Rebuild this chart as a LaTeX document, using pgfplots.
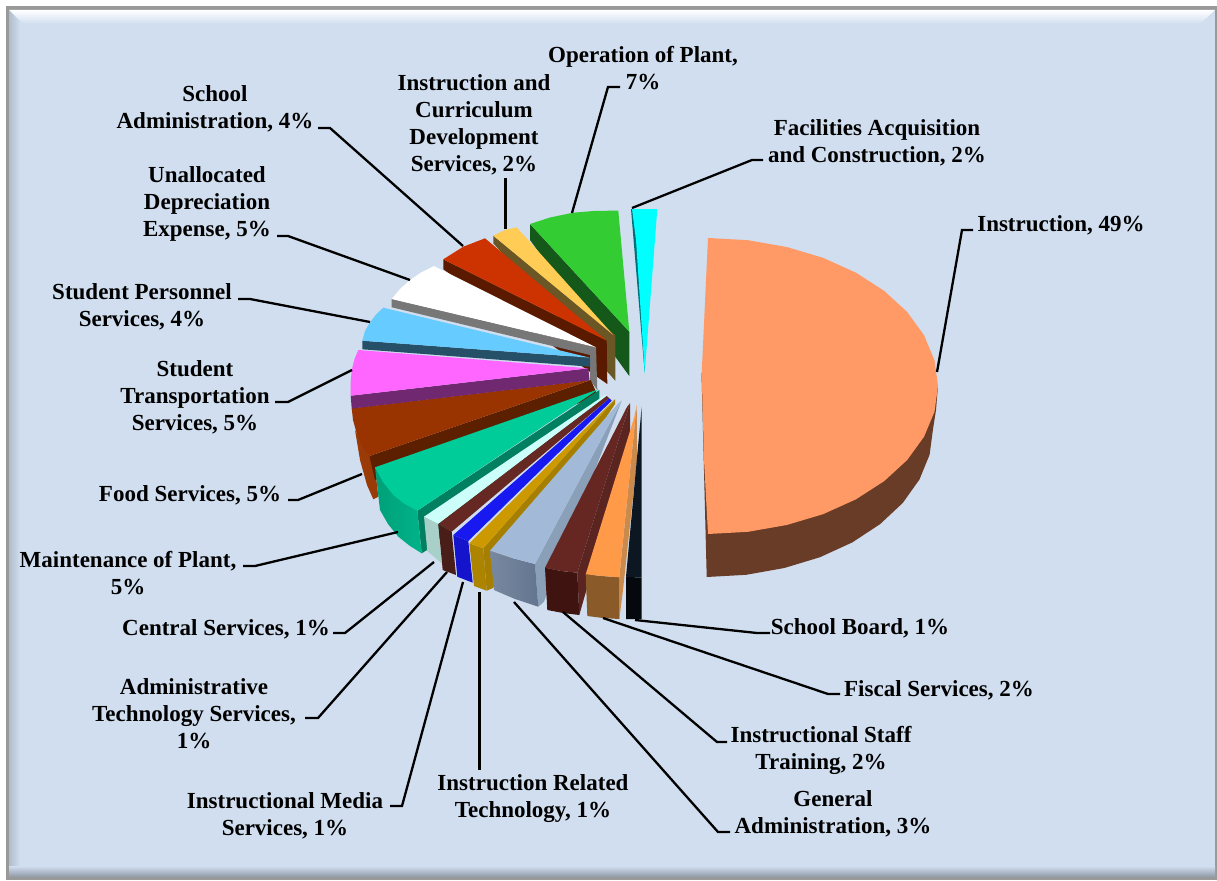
\documentclass[border=0pt]{standalone}
\usepackage{pgfplots}
\usepackage{fontspec}
\setmainfont{Liberation Serif}
\pgfplotsset{compat=1.18}
\definecolor{panel}{HTML}{D0DEEF}
\newcommand{\hexc}[1]{\definecolor{c#1}{HTML}{#1}}
\hexc{683C26}\hexc{FF9966}\hexc{006F7A}\hexc{00FFFF}\hexc{14581A}\hexc{33CC33}\hexc{6B5626}\hexc{FFCC55}
\hexc{5A1A00}\hexc{CC3300}\hexc{777777}\hexc{265068}\hexc{66CCFF}\hexc{9A3A06}\hexc{5C2000}
\hexc{993300}\hexc{702870}\hexc{FF66FF}\hexc{008060}\hexc{00A078}\hexc{00B389}\hexc{00CC99}
\hexc{A8CFC8}\hexc{CCFFFA}\hexc{4A1E18}\hexc{662822}\hexc{1414CC}\hexc{1818F0}\hexc{A67E00}
\hexc{AC8400}\hexc{CC9900}\hexc{8AA0B8}\hexc{78889F}\hexc{647590}\hexc{A2BAD8}\hexc{5A2421}
\hexc{3F1410}\hexc{662622}\hexc{C98A4B}\hexc{8A5A28}\hexc{FF9A48}\hexc{05080C}\hexc{0D1722}
\newcommand{\lab}[3]{\node[font=\fontsize{23}{27}\selectfont\bfseries,align=center,text=black,inner sep=0pt,yshift=-2pt] at (axis cs:#1,#2) {#3};}
\pgfplotsset{face/.style={fill=#1,draw=none,forget plot},
  leader/.style={black,line width=2.3pt,line join=miter,forget plot,no markers}}
\begin{document}
\begin{tikzpicture}
\begin{axis}[
  scale only axis,width=1217pt,height=880pt,
  xmin=0,xmax=1217,ymin=0,ymax=880,y dir=reverse,
  axis lines=none,clip=false,no markers]

% panel and bevel
\addplot[face=white] coordinates {(0,0)(1217,0)(1217,880)(0,880)} --cycle;
\addplot[face=black!40] coordinates {(5.5,6.5)(1217,6.5)(1217,880)(5.5,880)} --cycle;
\addplot[face=panel] coordinates {(9,10)(1215,10)(1215,875)(9,875)} --cycle;
\addplot[draw=none,forget plot,top color=white,bottom color=panel] coordinates {(9,10)(1215,10)(1200,24)(24,24)} --cycle;
\addplot[draw=none,forget plot,left color=black!15!panel,right color=panel] coordinates {(9,10)(20,22)(20,865)(9,875)} --cycle;
\addplot[draw=none,forget plot,top color=panel,bottom color=black!28!panel] coordinates {(9,866)(1215,866)(1215,876)(9,876)} --cycle;

% large exploded slice: side then top
\addplot[face=c683C26] coordinates {(701.5,373)(706.7,577)(746.2,574.8)(784.3,568)(820,557.2)(852.3,542.4)(880.1,524.1)(902.7,503)(919.4,479.6)(929.6,454.7)(933,429)(936,410)(938,386)} --cycle;
\addplot[face=cFF9966] coordinates {(708,238)(748,240.2)(786.7,247)(823,257.8)(855.8,272.6)(884.2,290.9)(907.2,312)(924.1,335.4)(934.5,360.3)(938,386)(934.5,411.7)(924.1,436.6)(907.2,460)(884.2,481.1)(855.8,499.4)(823,514.2)(786.7,525)(748,531.8)(708,534)(704,460)(701.7,373)} --cycle;

% upper fan: facilities
\addplot[face=c006F7A] coordinates {(631,209)(644.7,373)(646,300)(638,209)} --cycle;
\addplot[face=c00FFFF] coordinates {(632,209)(657.3,209)(644.7,373)(636,240)} --cycle;
% operation of plant
\addplot[face=c14581A] coordinates {(530,224)(530,240)(629.3,376)(629.3,331.7)} --cycle;
\addplot[face=c33CC33] coordinates {(530,224)(550,217.5)(573,212.7)(596,210.8)(618.3,210.7)(629.3,331.7)} --cycle;
% instruction and curriculum
\addplot[face=c6B5626] coordinates {(493.3,235.7)(493.3,243.3)(615.3,380.7)(615.3,335)} --cycle;
\addplot[face=cFFCC55] coordinates {(493.3,235.7)(505,230)(516.7,227.3)(613.3,335)} --cycle;
% school administration
\addplot[face=c5A1A00] coordinates {(443.3,259.3)(443.3,269.3)(607.3,384)(606.7,340.7)} --cycle;
\addplot[face=cCC3300] coordinates {(443.3,259.3)(463.3,246.7)(485,238.3)(606.7,340.7)} --cycle;
% unallocated depreciation
\addplot[face=c777777] coordinates {(391.7,299)(391.7,307.3)(590,355)(590,380)(597.3,390)(596,347.3)} --cycle;
\addplot[face=white] coordinates {(391.7,299)(400,289)(410,280)(421,272.5)(434,266)(596,347.3)} --cycle;
% student personnel
\addplot[face=c265068] coordinates {(362.3,340.7)(362.3,349.3)(590,366.7)(590,357.7)} --cycle;
\addplot[face=c66CCFF] coordinates {(362.3,340.7)(365,331)(370,322.3)(376,314.5)(383.3,307.7)(590,357.7)} --cycle;
% food services: outer wall first, as the transport slice lies over it
\addplot[face=c9A3A06] coordinates {(355,430)(360,460)(367,485)(373.3,499.3)(378.3,496.7)(375,467)(369.3,456)} --cycle;
\addplot[face=c5C2000] coordinates {(369.3,456)(375,480)(598,396)(590.7,380)} --cycle;
\addplot[face=c993300] coordinates {(351.7,408.3)(353,420)(356.7,433.3)(362,445)(369.3,456)(590.7,380)} --cycle;
% student transportation
\addplot[face=c702870] coordinates {(350.7,395.7)(351.7,408.6)(589.5,380.4)(588.3,368.3)} --cycle;
\addplot[face=cFF66FF] coordinates {(350.7,395.7)(350.5,385)(351.7,370)(354.5,359)(358.3,350)(588.3,368.3)} --cycle;

% lower fan: maintenance of plant
\addplot[face=c008060] coordinates {(417.3,510.7)(421.7,553.3)(427,550)(599.3,400)(599.3,390)} --cycle;
\addplot[draw=none,forget plot,left color=c00A078,right color=c00B389] coordinates {(375,467.3)(380,510)(388,524)(398.3,536.7)(410,546)(421.7,553.3)(417.3,510.7)} --cycle;
\addplot[face=c00CC99] coordinates {(375,467.3)(383,482)(393.3,495)(404,503.5)(417.3,510.7)(598.3,389.3)} --cycle;
% central services
\addplot[face=cA8CFC8] coordinates {(424,516.7)(427.3,551)(441.7,563.3)(438.3,524)} --cycle;
\addplot[face=cCCFFFA] coordinates {(424,516.7)(438.3,524)(606.7,396)(605,395)} --cycle;
% administrative technology
\addplot[face=c4A1E18] coordinates {(438.3,524)(442.7,570)(456,575)(451.7,531.7)} --cycle;
\addplot[face=c662822] coordinates {(438.3,524)(451.7,531.7)(609.3,398.3)(606.7,396)} --cycle;
% instructional media
\addplot[face=c1414CC] coordinates {(453.3,535)(457.3,576.7)(472.7,582.7)(468.3,541)} --cycle;
\addplot[face=c1818F0] coordinates {(453.3,535)(468.3,541)(611.7,400.7)(609.3,398.3)} --cycle;
% instruction related technology
\addplot[face=cA67E00] coordinates {(483.3,548.3)(486.7,590.7)(493,588)(615,404)(615,399.3)} --cycle;
\addplot[face=cAC8400] coordinates {(469.3,543.3)(474,586)(486.7,590.7)(483.3,548.3)} --cycle;
\addplot[face=cCC9900] coordinates {(469.3,543.3)(483.3,548.3)(615,399.3)(612,402)} --cycle;
% general administration
\addplot[face=c8AA0B8] coordinates {(535,564)(538.3,606.7)(544,601.7)(621.7,400.7)} --cycle;
\addplot[draw=none,forget plot,left color=c78889F,right color=c647590] coordinates {(490,550.7)(494,590)(515,599)(538.3,606.7)(535,564)(512,558)} --cycle;
\addplot[face=cA2BAD8] coordinates {(490,550.7)(512,558)(535,564)(621.7,400.7)(618.3,403.3)} --cycle;
% instructional staff training
\addplot[face=c5A2421] coordinates {(577.3,572.7)(579.3,615)(585,595)(630,438)(630,403.3)} --cycle;
\addplot[face=c3F1410] coordinates {(545,567.7)(547.3,610)(563,613)(579.3,615)(577.3,572.7)(561,571)} --cycle;
\addplot[face=c662622] coordinates {(545,567.7)(561,571)(577.3,572.7)(630,403.3)(627,407)} --cycle;
% fiscal services
\addplot[face=cC98A4B] coordinates {(619.3,577.3)(619.3,619)(623,590)(637,460)(636.7,405)} --cycle;
\addplot[face=c8A5A28] coordinates {(585.7,574.3)(587.3,616)(603,618)(619.3,619)(619.3,577.3)(602,576)} --cycle;
\addplot[face=cFF9A48] coordinates {(585.7,574.3)(602,576)(619.3,577.3)(636.7,405)(634,418)} --cycle;
% school board
\addplot[face=c05080C] coordinates {(626,576.7)(626,619)(641.7,619)(641.7,577.7)} --cycle;
\addplot[face=c0D1722] coordinates {(626,576.7)(641.7,577.7)(641.7,406.7)} --cycle;

% leader lines
\addplot[leader] coordinates {(937,372)(962,230)(973,230)};
\addplot[leader] coordinates {(632,208)(752,160)(763,160)};
\addplot[leader] coordinates {(572,213)(608,87)(620,87)};
\addplot[leader,line width=3pt] coordinates {(505,229)(505,178)};
\addplot[leader] coordinates {(463,246)(330,128)(318,128)};
\addplot[leader] coordinates {(410,280)(288,236)(277,236)};
\addplot[leader] coordinates {(370,322)(250,299)(238,299)};
\addplot[leader] coordinates {(352,370)(288,402)(275,402)};
\addplot[leader] coordinates {(362,474)(298,500)(288,500)};
\addplot[leader] coordinates {(398,532)(255,566)(243,566)};
\addplot[leader] coordinates {(434,562)(345,633)(333,633)};
\addplot[leader] coordinates {(447,572)(318,718)(305,718)};
\addplot[leader] coordinates {(463,582)(402,806)(390,806)};
\addplot[leader,line width=3pt] coordinates {(479,592)(479,770)};
\addplot[leader] coordinates {(514,602)(718,832)(730,832)};
\addplot[leader] coordinates {(563,612)(717,742)(727,742)};
\addplot[leader] coordinates {(603,618)(828,694)(840,694)};
\addplot[leader] coordinates {(635,620)(757,633)(770,633)};

% labels
\lab{643}{66}{Operation of Plant,\\7\%}
\lab{474}{122.5}{Instruction and\\Curriculum\\Development\\Services, 2\%}
\lab{877}{140.5}{Facilities Acquisition\\and Construction, 2\%}
\lab{215}{106.5}{School\\Administration, 4\%}
\lab{207}{202}{Unallocated\\Depreciation\\Expense, 5\%}
\lab{1061}{223}{Instruction, 49\%}
\lab{142}{304.5}{Student Personnel\\Services, 4\%}
\lab{195}{395}{Student\\Transportation\\Services, 5\%}
\lab{190}{493}{Food Services, 5\%}
\lab{128}{571.5}{Maintenance of Plant,\\5\%}
\lab{226}{627}{Central Services, 1\%}
\lab{194}{712}{Administrative\\Technology Services,\\1\%}
\lab{285}{813.5}{Instructional Media\\Services, 1\%}
\lab{533}{796.5}{Instruction Related\\Technology, 1\%}
\lab{833}{811.5}{General\\Administration, 3\%}
\lab{821}{748.5}{Instructional Staff\\Training, 2\%}
\lab{939}{688}{Fiscal Services, 2\%}
\lab{860}{626}{School Board, 1\%}
\end{axis}
\end{tikzpicture}
\end{document}
